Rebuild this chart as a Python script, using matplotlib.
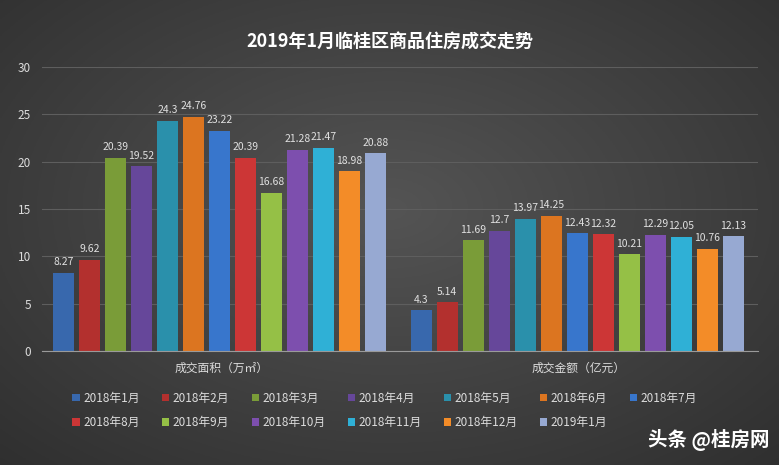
import matplotlib
matplotlib.use("Agg")
import matplotlib.pyplot as plt
import numpy as np

plt.rcParams['font.family'] = ['Noto Sans CJK SC', 'DejaVu Sans']

categories = ['成交面积（万㎡）', '成交金额（亿元）']
months = ['2018年1月', '2018年2月', '2018年3月', '2018年4月', '2018年5月', '2018年6月', '2018年7月',
          '2018年8月', '2018年9月', '2018年10月', '2018年11月', '2018年12月', '2019年1月']
area = [8.27, 9.62, 20.39, 19.52, 24.3, 24.76, 23.22, 20.39, 16.68, 21.28, 21.47, 18.98, 20.88]
amount = [4.3, 5.14, 11.69, 12.7, 13.97, 14.25, 12.43, 12.32, 10.21, 12.29, 12.05, 10.76, 12.13]
colors = ['#3868ad', '#b3302e', '#7a9c38', '#66479a', '#2a90ab', '#dc7520', '#3876cc',
          '#cc3636', '#95c046', '#7d4fae', '#2fb0d6', '#f38c28', '#97a9d2']

fig = plt.figure(figsize=(7.79, 4.65), dpi=100)

# dark radial gradient background
bg = fig.add_axes([0, 0, 1, 1], zorder=-10)
yy, xx = np.mgrid[0:1:200j, 0:1:300j]
r = np.sqrt(((xx - 0.5) / 0.75) ** 2 + ((yy - 0.45) / 0.8) ** 2)
g = np.clip(0.33 - 0.15 * r, 0, 1)
bg.imshow(np.dstack([g, g, g]), aspect='auto', extent=[0, 1, 0, 1])
bg.axis('off')

ax = fig.add_axes([0.054, 0.245, 0.919, 0.611])
ax.set_facecolor('none')

n = len(months)
step = 0.0726
width = 0.059
x = np.arange(len(categories))
handles = []
for i in range(n):
    vals = [area[i], amount[i]]
    pos = x + (i - (n - 1) / 2) * step - 0.005
    bars = ax.bar(pos, vals, width, color=colors[i], label=months[i], zorder=3)
    handles.append(bars)
    for b, v in zip(bars, vals):
        ax.text(b.get_x() + b.get_width() / 2, v + 0.6, f'{v:g}', ha='center', va='bottom',
                fontsize=7.5, color='#e0e0e0', zorder=4)

ax.set_xlim(-0.5, 1.5)
ax.set_ylim(0, 30)
ax.set_yticks(range(0, 31, 5))
ax.set_xticks(x)
ax.set_xticklabels(categories, fontsize=8.5, color='#dcdcdc')
ax.tick_params(axis='y', colors='#dcdcdc', labelsize=8.5, length=0, pad=8)
ax.tick_params(axis='x', length=0, pad=8)
ax.grid(axis='y', color='#5e5e5e', linewidth=0.8, zorder=0)
for s in ['top', 'right', 'left']:
    ax.spines[s].set_visible(False)
ax.spines['bottom'].set_color('#9a9a9a')
ax.spines['bottom'].set_zorder(5)

fig.text(0.5, 0.91, '2019年1月临桂区商品住房成交走势', ha='center', va='center',
         fontsize=13, fontweight='bold', color='white')

# legend filled row by row
order = [0, 7, 1, 8, 2, 9, 3, 10, 4, 11, 5, 12, 6]
fig.legend([handles[k] for k in order], [months[k] for k in order],
           loc='upper left', bbox_to_anchor=(0.087, 0.168), ncol=7, frameon=False,
           fontsize=8.5, labelcolor='#dcdcdc', handlelength=0.6, handleheight=0.6,
           handletextpad=0.3, columnspacing=1.9, borderaxespad=0, labelspacing=1.0)

fig.text(0.988, 0.053, '头条 @桂房网', ha='right', va='center', fontsize=14,
         fontweight='bold', color='white')

fig.savefig('out.png', dpi=100)
